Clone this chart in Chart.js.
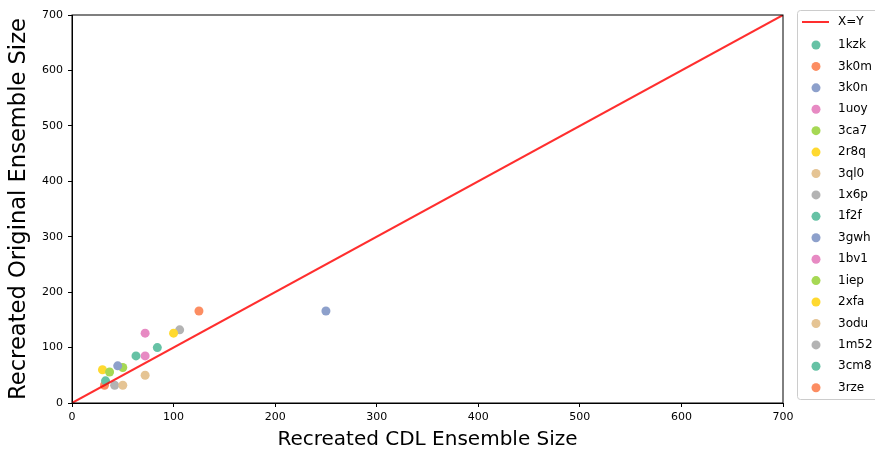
<!DOCTYPE html>
<html>
<head>
<meta charset="utf-8">
<script src="https://cdn.jsdelivr.net/npm/chart.js@4"></script>
<style>
  body { margin: 0; background: #fff; }
  #wrap { width: 875px; height: 450px; }
</style>
</head>
<body>
<div id="wrap"><canvas id="scatterChart"></canvas></div>
<script>
// ensemble sizes: [CDL, original]
const names = ["1kzk", "3k0m", "3k0n", "1uoy", "3ca7", "2r8q", "3ql0", "1x6p",
               "1f2f", "3gwh", "1bv1", "1iep", "2xfa", "3odu", "1m52", "3cm8", "3rze"];
const cdlSize = [84, 125, 45, 72, 50, 100, 72, 106, 63, 250, 72, 37, 30, 50, 42, 33, 32];
const origSize = [100, 166, 67, 126, 64, 126, 50, 132, 85, 166, 85, 56, 60, 32, 32, 40, 32];
const colors = ["#66c2a5", "#fc8d62", "#8da0cb", "#e78ac3", "#a6d854", "#ffd92f", "#e5c494", "#b3b3b3",
                "#66c2a5", "#8da0cb", "#e78ac3", "#a6d854", "#ffd92f", "#e5c494", "#b3b3b3", "#66c2a5", "#fc8d62"];
const axisTicks = [0, 100, 200, 300, 400, 500, 600, 700];

const datasets = [{
    type: "line",
    label: "X=Y",
    data: [{ x: 0, y: 0 }, { x: 700, y: 700 }],
    borderColor: "rgba(255,0,0,0.82)",
    borderWidth: 2,
    pointRadius: 0,
    fill: false
}];
names.forEach(function (name, i) {
    datasets.push({
        type: "scatter",
        label: name,
        data: [{ x: cdlSize[i], y: origSize[i] }],
        backgroundColor: colors[i],
        borderWidth: 0,
        pointRadius: 4.5
    });
});

// frame round the plot and a matplotlib-like legend box
const framePlugin = {
    id: "frame",
    afterDraw: function (chart) {
        const ctx = chart.ctx;
        const a = chart.chartArea;
        ctx.save();
        ctx.strokeStyle = "#000";
        ctx.lineWidth = 1;
        ctx.strokeRect(a.left, a.top, a.right - a.left, a.bottom - a.top);

        const lx = 797, ly = 10, lw = 82, lh = 389;
        ctx.strokeStyle = "#cccccc";
        ctx.beginPath();
        ctx.roundRect(lx + 0.5, ly + 0.5, lw, lh, 3);
        ctx.stroke();
        ctx.font = "12px 'DejaVu Sans'";
        ctx.textBaseline = "middle";
        chart.data.datasets.forEach(function (ds, i) {
            const y = i === 0 ? 22 : 45 + (i - 1) * 21.42;
            if (ds.type === "line") {
                ctx.strokeStyle = ds.borderColor;
                ctx.lineWidth = 2;
                ctx.beginPath();
                ctx.moveTo(802, y);
                ctx.lineTo(829, y);
                ctx.stroke();
            } else {
                ctx.fillStyle = ds.backgroundColor;
                ctx.beginPath();
                ctx.arc(816, y, 4.5, 0, Math.PI * 2);
                ctx.fill();
            }
            ctx.fillStyle = "#000";
            ctx.fillText(ds.label, 838, y);
        });
        ctx.restore();
    }
};

const axisFont = { family: "'DejaVu Sans'", size: 11 };

new Chart(document.getElementById("scatterChart").getContext("2d"), {
    data: { datasets: datasets },
    options: {
        responsive: true,
        maintainAspectRatio: false,
        animation: false,
        layout: { padding: { top: 15, right: 92, left: 0, bottom: 0 } },
        plugins: { legend: { display: false }, tooltip: { enabled: false } },
        scales: {
            x: {
                type: "linear",
                min: 0, max: 700,
                afterBuildTicks: function (s) { s.ticks = axisTicks.map(v => ({ value: v })); },
                afterFit: function (s) { s.height = 47; },
                grid: { drawOnChartArea: false, drawTicks: true, tickLength: 4, color: "#000" },
                border: { color: "#000" },
                ticks: { color: "#000", font: axisFont, padding: 4, maxRotation: 0 },
                title: { display: true, text: "Recreated CDL Ensemble Size", color: "#000",
                         font: { family: "'DejaVu Sans'", size: 20, lineHeight: 1 }, padding: { top: 0, bottom: 0 } }
            },
            y: {
                type: "linear",
                min: 0, max: 700,
                afterBuildTicks: function (s) { s.ticks = axisTicks.map(v => ({ value: v })); },
                afterFit: function (s) { s.width = 72; },
                grid: { drawOnChartArea: false, drawTicks: true, tickLength: 4, color: "#000" },
                border: { color: "#000" },
                ticks: { color: "#000", font: axisFont, padding: 5 },
                title: { display: true, text: "Recreated Original Ensemble Size", color: "#000",
                         font: { family: "'DejaVu Sans'", size: 22.6, lineHeight: 1 }, padding: { top: 8, bottom: 0 } }
            }
        }
    },
    plugins: [framePlugin]
});
</script>
</body>
</html>
